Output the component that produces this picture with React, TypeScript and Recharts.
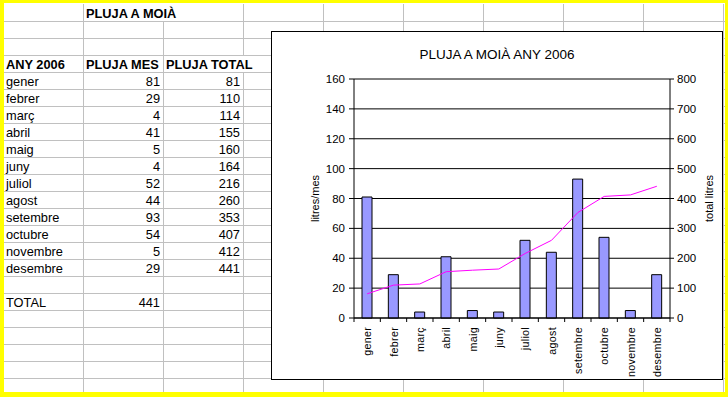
import React from 'react';
import { ComposedChart, Bar, Line, XAxis, YAxis, CartesianGrid, Label } from 'recharts';

const months = ['gener', 'febrer', 'març', 'abril', 'maig', 'juny', 'juliol', 'agost', 'setembre', 'octubre', 'novembre', 'desembre'];
const plujaMes = [81, 29, 4, 41, 5, 4, 52, 44, 93, 54, 5, 29];
const plujaTotal = [81, 110, 114, 155, 160, 164, 216, 260, 353, 407, 412, 441];
const leftTicks = [0, 20, 40, 60, 80, 100, 120, 140, 160];
const rightTicks = [0, 100, 200, 300, 400, 500, 600, 700, 800];

const sheetTitle = 'PLUJA A MOIÀ';
const headers = ['ANY 2006', 'PLUJA MES', 'PLUJA TOTAL'];
const totalLabel = 'TOTAL';
const totalValue = 441;
const chartTitle = 'PLUJA A MOIÀ ANY 2006';

const FONT = '"Liberation Sans", Arial, sans-serif';
const ROW_H = 17;
const ROW_TOP = 4;
const COL_W = 80;
const COL_LEFT = 3;

const chartData = months.map((m, i) => ({ month: m, mes: plujaMes[i], total: plujaTotal[i] }));

// cell helper: row index, column index, text, alignment, bold
const Cell = ({ r, c, text, align = 'left', bold = false }: { r: number; c: number; text: string | number; align?: 'left' | 'right'; bold?: boolean }) => (
  <div
    style={{
      position: 'absolute',
      left: COL_LEFT + c * COL_W,
      top: ROW_TOP + r * ROW_H + 1,
      width: COL_W,
      height: ROW_H,
      lineHeight: `${ROW_H}px`,
      fontSize: 12.8,
      fontWeight: bold ? 'bold' : 'normal',
      fontFamily: FONT,
      textAlign: align,
      padding: '0 3px',
      boxSizing: 'border-box',
      whiteSpace: 'nowrap',
      overflow: 'visible',
      color: '#000',
    }}
  >
    {text}
  </div>
);

const Grid = () => {
  const lines: React.ReactNode[] = [];
  for (let k = 0; k < 23; k++) {
    const y = ROW_TOP + (k + 1) * ROW_H + 0.5;
    lines.push(<line key={'h' + k} x1={0} x2={728} y1={y} y2={y} stroke="#c0c0c0" />);
  }
  for (let c = 1; c <= 9; c++) {
    const x = COL_LEFT + c * COL_W + 0.5;
    for (let r = 0; r < 24; r++) {
      // text overflow hides some borders
      if (r === 0 && c === 2) continue;
      if (r === 3 && c === 3) continue;
      lines.push(<line key={`v${c}-${r}`} x1={x} x2={x} y1={ROW_TOP + r * ROW_H} y2={ROW_TOP + (r + 1) * ROW_H} stroke="#c0c0c0" />);
    }
  }
  return (
    <svg width={728} height={397} style={{ position: 'absolute', left: 0, top: 0 }}>
      {lines}
    </svg>
  );
};

const MonthTick = (props: any) => {
  const { x, y, payload, index } = props;
  const half = payload && payload.offset ? payload.offset : 13.2;
  return (
    <g>
      <line x1={x - half} x2={x - half} y1={y} y2={y + 4} stroke="#000" />
      {index === months.length - 1 && <line x1={x + half} x2={x + half} y1={y} y2={y + 4} stroke="#000" />}
      <text
        transform={`translate(${x + 4},${y + 9}) rotate(-90)`}
        textAnchor="end"
        fontSize={10.7}
        fontFamily={FONT}
        letterSpacing={0.3}
        fill="#000"
      >
        {payload.value}
      </text>
    </g>
  );
};

export default function App() {
  return (
    <div style={{ position: 'fixed', left: 0, top: 0, width: 728, height: 397, background: '#ffff00', overflow: 'hidden' }}>
      <div style={{ position: 'absolute', left: 4, top: 3, width: 721, height: 389, background: '#fff', overflow: 'hidden' }}>
        <div style={{ position: 'absolute', left: -4, top: -3, width: 728, height: 397 }}>
          <Grid />
          <Cell r={0} c={1} text={sheetTitle} bold />
          <Cell r={3} c={0} text={headers[0]} bold />
          <Cell r={3} c={1} text={headers[1]} bold />
          <Cell r={3} c={2} text={headers[2]} bold />
          {months.map((m, i) => (
            <React.Fragment key={m}>
              <Cell r={4 + i} c={0} text={m} />
              <Cell r={4 + i} c={1} text={plujaMes[i]} align="right" />
              <Cell r={4 + i} c={2} text={plujaTotal[i]} align="right" />
            </React.Fragment>
          ))}
          <Cell r={17} c={0} text={totalLabel} />
          <Cell r={17} c={1} text={totalValue} align="right" />

          <div
            style={{
              position: 'absolute',
              left: 271,
              top: 31,
              width: 452,
              height: 349,
              border: '1px solid #000',
              boxSizing: 'border-box',
              background: '#fff',
            }}
          >
            <div
              style={{
                position: 'absolute',
                left: 0,
                top: 15,
                width: '100%',
                textAlign: 'center',
                fontFamily: FONT,
                fontSize: 13.5,
                color: '#000',
              }}
            >
              {chartTitle}
            </div>
            <ComposedChart width={450} height={347} data={chartData} margin={{ top: 47, right: 0, bottom: 0, left: 0 }}>
              <CartesianGrid yAxisId="left" vertical={false} stroke="#000" />
              <XAxis
                dataKey="month"
                interval={0}
                height={61}
                tickSize={0}
                tickMargin={0}
                tickLine={false}
                axisLine={{ stroke: '#000' }}
                tick={<MonthTick />}
              />
              <YAxis
                yAxisId="left"
                domain={[0, 160]}
                ticks={leftTicks}
                width={82}
                tickSize={5}
                tickMargin={4}
                axisLine={{ stroke: '#000' }}
                tickLine={{ stroke: '#000' }}
                tick={{ fill: '#000', fontSize: 11.5, fontFamily: FONT }}
              >
                <Label value="litres/mes" angle={-90} position="center" dx={2} style={{ fontSize: 11, fontFamily: FONT, fill: '#000' }} />
              </YAxis>
              <YAxis
                yAxisId="right"
                orientation="right"
                domain={[0, 800]}
                ticks={rightTicks}
                width={52}
                tickSize={4}
                tickMargin={3}
                axisLine={{ stroke: '#000' }}
                tickLine={{ stroke: '#000' }}
                tick={{ fill: '#000', fontSize: 11.5, fontFamily: FONT }}
              >
                <Label value="total litres" angle={-90} position="center" dx={13} style={{ fontSize: 11, fontFamily: FONT, fill: '#000' }} />
              </YAxis>
              <Bar yAxisId="left" dataKey="mes" barSize={10} fill="#9999ff" stroke="#000" strokeWidth={1} isAnimationActive={false} />
              <Line
                yAxisId="right"
                dataKey="total"
                type="linear"
                stroke="#ff00ff"
                strokeWidth={1}
                dot={false}
                activeDot={false}
                isAnimationActive={false}
              />
            </ComposedChart>
          </div>
        </div>
      </div>
    </div>
  );
}
